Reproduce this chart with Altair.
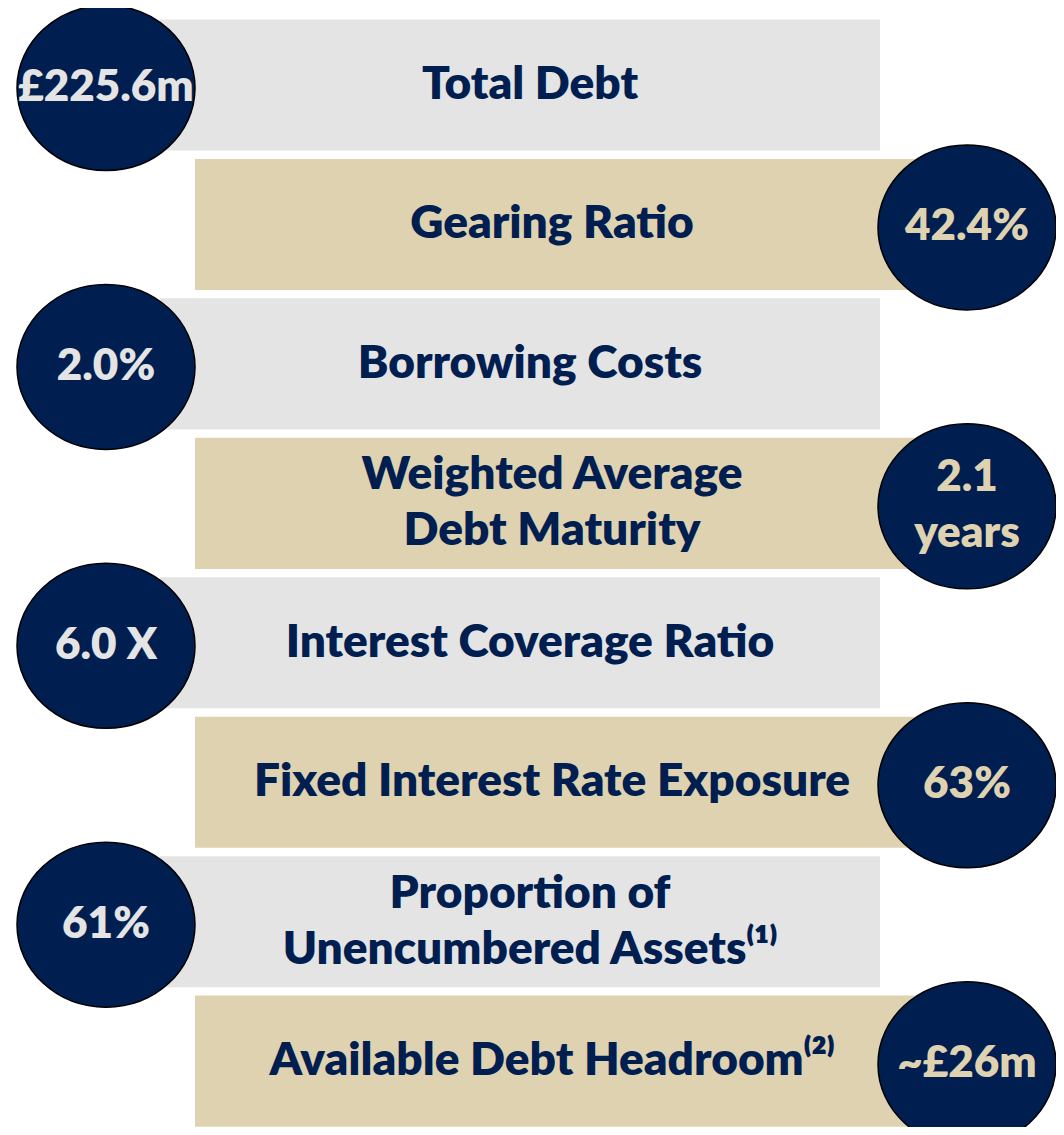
import altair as alt
import pandas as pd

# ---- content ----
labels = [
    "Total Debt",
    "Gearing Ratio",
    "Borrowing Costs",
    "Weighted Average\nDebt Maturity",
    "Interest Coverage Ratio",
    "Fixed Interest Rate Exposure",
    "Proportion of\nUnencumbered Assets⁽¹⁾",
    "Available Debt Headroom⁽²⁾",
]
values = ["£225.6m", "42.4%", "2.0%", "2.1\nyears", "6.0 X", "63%", "61%", "~£26m"]
sides = ["left", "right", "left", "right", "left", "right", "left", "right"]

# ---- style / layout ----
NAVY = "#001E50"
GREY = "#E4E4E4"
TAN = "#DFD2B0"
FONT = "Lato"
FS_LABEL = 46
FS_VALUE = 44
FW = 800
LH = 56
ROW = 139.45
CIRCLE_SHIFT = 3  # px, circles sit slightly below bar centres

bar_x = {"left": (160, 880), "right": (195, 955)}
circle_x = {"left": 106, "right": 967}
label_x = {"left": 530, "right": 552}
bar_fill = {"left": GREY, "right": TAN}
value_col = {"left": GREY, "right": TAN}

rows = []
for i, (lab, val, s) in enumerate(zip(labels, values, sides)):
    nl = lab.count("\n")
    nv = val.count("\n")
    cy = i + CIRCLE_SHIFT / ROW
    rows.append({
        "row": i, "label": lab, "value": val, "side": s,
        "x0": bar_x[s][0], "x1": bar_x[s][1],
        "y0": i - 0.47, "y1": i + 0.47,
        "ly": i - nl * LH / 2 / ROW,
        "cy": cy,
        "vy": cy - nv * LH / 2 / ROW,
        "cx": circle_x[s], "lx": label_x[s],
        "fill": bar_fill[s], "vcol": value_col[s],
    })
df = pd.DataFrame(rows)

W, H = 1048, 1119
xs = alt.Scale(domain=[8, 8 + W])
d0 = -77 / ROW
ys = alt.Scale(domain=[d0, d0 + H / ROW], reverse=True)

base = alt.Chart(df)

bars = base.mark_rect().encode(
    x=alt.X("x0:Q", scale=xs, axis=None),
    x2="x1:Q",
    y=alt.Y("y0:Q", scale=ys, axis=None),
    y2="y1:Q",
    color=alt.Color("fill:N", scale=None),
)

k = 0.5523
ry = 165 / 178
ell = (f"M 1 0 C 1 {k*ry:.4f} {k:.4f} {ry:.4f} 0 {ry:.4f} "
       f"C {-k:.4f} {ry:.4f} -1 {k*ry:.4f} -1 0 "
       f"C -1 {-k*ry:.4f} {-k:.4f} {-ry:.4f} 0 {-ry:.4f} "
       f"C {k:.4f} {-ry:.4f} 1 {-k*ry:.4f} 1 0 Z")

circles = base.mark_point(
    shape=ell, filled=True, fill=NAVY, stroke="black", strokeWidth=1.5,
    opacity=1, size=178 * 178,
).encode(
    x=alt.X("cx:Q", scale=xs, axis=None),
    y=alt.Y("cy:Q", scale=ys, axis=None),
)

label_text = base.mark_text(
    font=FONT, fontSize=FS_LABEL, fontWeight=FW, color=NAVY,
    align="center", baseline="middle", lineBreak="\n", lineHeight=LH,
).encode(
    x=alt.X("lx:Q", scale=xs, axis=None),
    y=alt.Y("ly:Q", scale=ys, axis=None),
    text="label:N",
)

value_text = base.mark_text(
    font=FONT, fontSize=FS_VALUE, fontWeight=FW,
    align="center", baseline="middle", lineBreak="\n", lineHeight=LH,
).encode(
    x=alt.X("cx:Q", scale=xs, axis=None),
    y=alt.Y("vy:Q", scale=ys, axis=None),
    text="value:N",
    color=alt.Color("vcol:N", scale=None),
)

chart = alt.layer(bars, circles, label_text, value_text).properties(
    width=W, height=H, padding=0, autosize=alt.AutoSizeParams(type="none"),
).configure_view(stroke=None)

chart.save("out.html", embed_options={"renderer": "svg", "actions": False})
